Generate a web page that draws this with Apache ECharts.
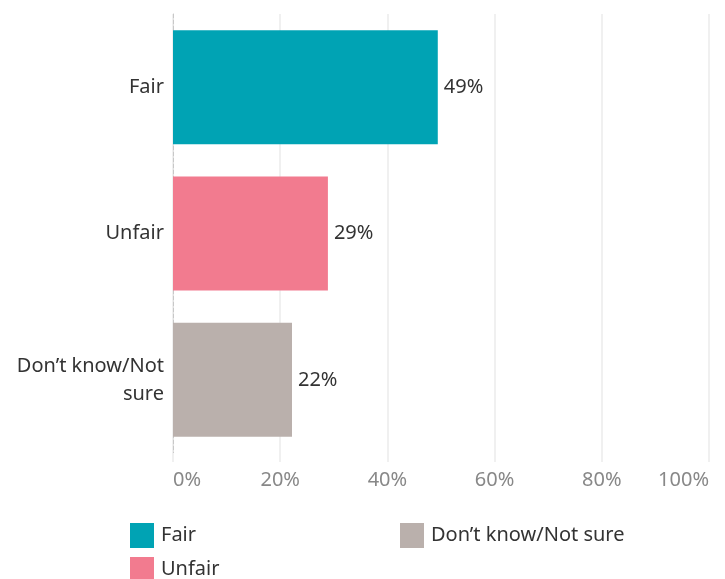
<!DOCTYPE html>
<html>
<head>
<meta charset="utf-8">
<script src="https://cdn.jsdelivr.net/npm/echarts@6/dist/echarts.min.js"></script>
<style>html,body{margin:0;padding:0;background:#fff}#c{width:725px;height:579px}</style>
</head>
<body>
<div id="c"></div>
<script>
var categories = ['Fair', 'Unfair', 'Don\u2019t know/Not sure'];
var values = [49.4, 28.9, 22.2];
var colors = ['#00A3B4', '#F27B8F', '#BAB0AC'];
var xTicks = [0, 20, 40, 60, 80, 100];

var FONT = '"Noto Sans", "Open Sans", sans-serif';
var chart = echarts.init(document.getElementById('c'));

var series = categories.map(function (name, i) {
  var d = categories.map(function (c, j) { return j === i ? values[i] : '-'; });
  return {
    name: name,
    type: 'bar',
    stack: 'all',
    barWidth: 114,
    data: d,
    itemStyle: { color: colors[i] },
    label: {
      show: true,
      position: 'right',
      distance: 6,
      formatter: function (p) { return Math.round(p.value) + '%'; },
      color: '#333',
      fontSize: 20,
      fontFamily: FONT
    }
  };
});

function legendFor(idx, left, top) {
  return {
    data: [categories[idx]],
    orient: 'horizontal',
    left: left,
    top: top,
    itemWidth: 24,
    itemHeight: 25,
    icon: 'rect',
    selectedMode: false,
    padding: 0,
    textStyle: { color: '#333', fontSize: 20, fontFamily: FONT, padding: [0, 0, 0, 2] }
  };
}

chart.setOption({
  animation: false,
  grid: { left: 173, right: 16, top: 14, bottom: 126, containLabel: false, outerBoundsMode: 'none' },
  xAxis: {
    type: 'value',
    min: 0,
    max: 100,
    interval: 20,
    axisLine: { show: false },
    axisTick: { show: true, length: 9, lineStyle: { color: '#f0f0f0', width: 2 } },
    splitLine: { show: true, lineStyle: { color: '#f0f0f0', width: 2 } },
    axisLabel: {
      margin: 17,
      color: '#888',
      fontSize: 20,
      fontFamily: FONT,
      alignMinLabel: 'left',
      alignMaxLabel: 'right',
      formatter: function (v) { return xTicks.indexOf(v) >= 0 ? v + '%' : ''; }
    }
  },
  yAxis: {
    type: 'category',
    data: categories,
    inverse: true,
    axisLine: { show: true, lineStyle: { color: '#c8c8c8', type: 'dashed', width: 1 } },
    axisTick: { show: false },
    axisLabel: {
      margin: 9,
      color: '#333',
      fontSize: 20,
      fontFamily: FONT,
      align: 'right',
      lineHeight: 28,
      formatter: function (v) { return v.length > 15 ? v.replace(/ (\S+)$/, '\n$1') : v; }
    }
  },
  legend: [
    legendFor(0, 130, 523),
    legendFor(1, 130, 557),
    legendFor(2, 400, 523)
  ],
  series: series
});
</script>
</body>
</html>
